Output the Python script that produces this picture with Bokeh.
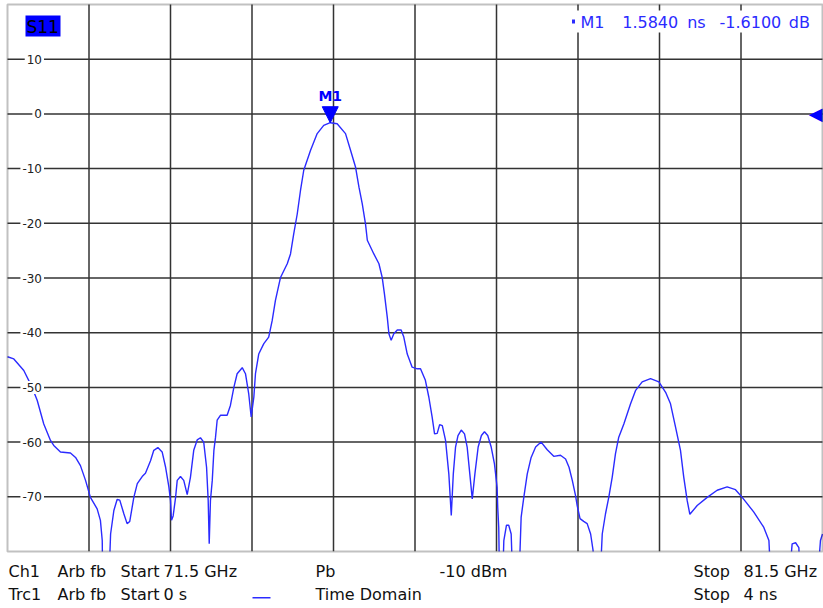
from bokeh.plotting import figure
from bokeh.models import Range1d, Label, BoxAnnotation, Arrow, NormalHead
from bokeh.core.properties import value
from bokeh.embed import file_html
from bokeh.resources import INLINE

# ---- data ----
time_ns = [0.000, 0.031, 0.080, 0.121, 0.146, 0.178, 0.211, 0.227, 0.260, 0.309,
           0.334, 0.358, 0.383, 0.407, 0.440, 0.456, 0.465, 0.468, 0.495, 0.506,
           0.522, 0.538, 0.551, 0.571, 0.587, 0.600, 0.620, 0.637, 0.661, 0.677,
           0.702, 0.718, 0.738, 0.759, 0.776, 0.792, 0.800, 0.805, 0.813, 0.825,
           0.833, 0.849, 0.865, 0.882, 0.898, 0.914, 0.931, 0.947, 0.963, 0.977,
           0.985, 0.990, 0.996, 1.005, 1.013, 1.021, 1.029, 1.045, 1.078, 1.094,
           1.111, 1.127, 1.152, 1.168, 1.184, 1.196, 1.209, 1.217, 1.233, 1.258,
           1.282, 1.299, 1.315, 1.340, 1.373, 1.389, 1.405, 1.422, 1.438, 1.454,
           1.487, 1.520, 1.552, 1.584, 1.618, 1.659, 1.684, 1.708, 1.725, 1.741,
           1.757, 1.766, 1.798, 1.823, 1.839, 1.850, 1.864, 1.872, 1.883, 1.896,
           1.913, 1.932, 1.945, 1.962, 1.986, 2.011, 2.027, 2.051, 2.068, 2.084,
           2.096, 2.109, 2.121, 2.134, 2.150, 2.166, 2.178, 2.188, 2.199, 2.211,
           2.227, 2.243, 2.256, 2.269, 2.281, 2.294, 2.310, 2.326, 2.341, 2.357,
           2.374, 2.390, 2.403, 2.406, 2.411, 2.416, 2.428, 2.436, 2.449, 2.460,
           2.472, 2.482, 2.508, 2.521, 2.534, 2.551, 2.570, 2.592, 2.619, 2.649,
           2.681, 2.714, 2.739, 2.756, 2.772, 2.788, 2.796, 2.810, 2.828, 2.845,
           2.862, 2.874, 2.880, 2.905, 2.919, 2.935, 2.951, 2.968, 2.984, 3.000,
           3.025, 3.058, 3.082, 3.115, 3.156, 3.197, 3.230, 3.254, 3.279, 3.303,
           3.319, 3.336, 3.349, 3.385, 3.434, 3.483, 3.532, 3.573, 3.606, 3.663,
           3.712, 3.737, 3.750, 3.830, 3.851, 3.868, 3.884, 3.892, 3.970, 3.990,
           4.000]
s11_db = [-44.4, -44.8, -46.9, -50.0, -52.4, -56.7, -59.7, -60.6, -61.8, -62.0,
          -62.8, -64.3, -67.0, -70.1, -72.2, -74.3, -78.0, -88.0, -88.0, -76.8,
          -72.5, -70.5, -70.6, -73.1, -74.9, -74.5, -70.1, -67.6, -66.3, -65.7,
          -63.4, -61.5, -61.0, -61.8, -64.6, -68.2, -70.7, -74.3, -73.5, -70.1,
          -67.0, -66.3, -67.0, -69.6, -66.4, -61.5, -59.6, -59.2, -60.0, -64.6,
          -70.7, -78.6, -70.7, -67.0, -61.5, -59.1, -56.0, -55.1, -55.1, -53.3,
          -50.0, -47.5, -46.4, -47.5, -51.2, -55.4, -51.8, -47.5, -43.9, -42.0,
          -40.8, -37.8, -34.1, -29.9, -27.4, -25.6, -21.9, -18.3, -14.0, -10.3,
          -6.7, -3.6, -2.1, -1.61, -1.8, -3.6, -6.7, -9.7, -13.4, -16.4,
          -20.1, -23.1, -25.6, -27.4, -29.9, -32.9, -37.2, -40.2, -41.4, -40.2,
          -39.5, -39.5, -40.8, -43.9, -46.3, -46.6, -46.6, -48.7, -51.8, -55.4,
          -58.5, -58.4, -56.8, -57.0, -59.7, -65.8, -73.4, -65.8, -60.9, -58.8,
          -57.8, -58.5, -60.9, -65.8, -70.4, -65.8, -60.9, -58.8, -58.1, -58.8,
          -60.9, -64.0, -68.3, -71.9, -75.6, -88.0, -88.0, -78.0, -75.2, -75.2,
          -76.8, -88.0, -88.0, -73.7, -70.1, -65.8, -62.8, -60.9, -60.0, -61.4,
          -62.6, -62.4, -63.1, -64.6, -67.0, -69.8, -71.6, -74.0, -74.5, -74.9,
          -76.8, -79.8, -88.0, -88.0, -76.8, -73.1, -70.1, -66.4, -62.1, -59.1,
          -56.7, -53.0, -50.6, -49.0, -48.4, -49.0, -50.9, -53.0, -57.3, -61.5,
          -66.4, -70.7, -73.2, -71.6, -70.1, -68.8, -68.2, -68.7, -70.1, -72.8,
          -75.6, -78.0, -88.0, -88.0, -78.6, -78.4, -79.3, -88.0, -88.0, -78.0,
          -76.8]

x_ticks = [0.4, 0.8, 1.2, 1.6, 2.0, 2.4, 2.8, 3.2, 3.6]
y_ticks = [10, 0, -10, -20, -30, -40, -50, -60, -70]
y_tick_labels = ["10", "0", "-10", "-20", "-30", "-40", "-50", "-60", "-70"]
x_min, x_max = 0.0, 4.0
y_min, y_max = -80.0, 20.0

marker_t = [1.584]
marker_db = [-1.61]
marker_name = ["M1"]
ref_level_db = [0.0]
trace_name = "S11"

footer_row1 = ["Ch1", "Arb fb", "Start", "71.5 GHz", "Pb", "-10 dBm", "Stop", "81.5 GHz"]
footer_row2 = ["Trc1", "Arb fb", "Start", "0 s", "Time Domain", "Stop", "4 ns"]

# ---- layout / style (pixels) ----
W, H = 823, 608
FRAME_L, FRAME_R, FRAME_T, FRAME_B = 7, 822, 4, 551
footer_row1_x = [8, 57, 120, 163, 315, 439, 693, 743]
footer_row2_x = [8, 57, 120, 163, 315, 693, 743]
TRACE = "#2b2bff"
GRID = "#333333"
FONT = "DejaVu Sans"

px_per_x = (FRAME_R - FRAME_L) / (x_max - x_min)
px_per_y = (FRAME_B - FRAME_T) / (y_max - y_min)
xr = Range1d(x_min - FRAME_L / px_per_x, x_max + (W - FRAME_R) / px_per_x)
yr = Range1d(y_min - (H - FRAME_B) / px_per_y, y_max + FRAME_T / px_per_y)


def sy(page_y):
    """page y (from top) -> screen y (from bottom)"""
    return H - page_y


p = figure(width=W, height=H, x_range=xr, y_range=yr,
           output_backend="svg", toolbar_location=None,
           x_axis_location=None, y_axis_location=None,
           min_border=0, min_border_left=0, min_border_right=0,
           min_border_top=0, min_border_bottom=0,
           outline_line_color=None,
           background_fill_color="white", border_fill_color="white")
p.xgrid.visible = False
p.ygrid.visible = False

# grid
p.segment(x0=x_ticks, y0=[y_min] * len(x_ticks), x1=x_ticks, y1=[y_max] * len(x_ticks),
          line_color=GRID, line_width=1.5)
p.segment(x0=[x_min] * len(y_ticks), y0=y_ticks, x1=[x_max] * len(y_ticks), y1=y_ticks,
          line_color=GRID, line_width=1.5)

# trace
p.line(time_ns, s11_db, line_color=TRACE, line_width=1.4)

# marker name above the marker triangle
p.text(x=marker_t, y=marker_db, text=marker_name, text_align="center",
       text_baseline="middle", y_offset=-27,
       text_font=value(FONT), text_font_style="bold", text_font_size="14px",
       text_color="#0000ff")

# reference level arrow on right edge
p.text(x=[x_max], y=ref_level_db, text=["◀"], text_align="right", text_baseline="middle",
       text_font=value(FONT), text_font_size="18px", text_color="#0000ff")

# cover anything below the diagram (trace is clipped at the bottom edge)
p.add_layout(BoxAnnotation(top=y_min, fill_color="white", fill_alpha=1, line_color=None))
# diagram frame
p.add_layout(BoxAnnotation(left=x_min, right=x_max, bottom=y_min, top=y_max,
                           fill_color=None, line_color=GRID, line_width=2))

# marker triangle
p.add_layout(Arrow(x_start=marker_t[0], y_start=y_max, x_end=marker_t[0], y_end=marker_db[0],
                   line_alpha=0,
                   end=NormalHead(size=16, fill_color="#0000ff", line_color="#0000ff")))

# y tick labels inside the plot, white boxes over the grid
for v, lab in zip(y_ticks, y_tick_labels):
    p.add_layout(Label(x=43.5, y=v, x_units="screen", y_units="data", text=lab,
                       text_align="right", text_baseline="middle",
                       text_font=FONT, text_font_size="12px", text_color="#222222",
                       background_fill_color="white", padding=2))


def sbox(left, right, top, bottom, color):
    return BoxAnnotation(left=left, right=right, bottom=sy(bottom), top=sy(top),
                         left_units="screen", right_units="screen",
                         bottom_units="screen", top_units="screen",
                         fill_color=color, fill_alpha=1, line_color=None)


# trace name box
p.add_layout(sbox(25, 60, 15, 36, "#0000ff"))
p.add_layout(Label(x=26, y=sy(26.5), x_units="screen", y_units="screen", text=trace_name,
                   text_baseline="middle",
                   text_font=FONT, text_font_size="17px", text_color="#000000"))

# marker readout (top right)
p.add_layout(sbox(566, 818, 10, 32, "white"))
p.add_layout(sbox(571.5, 574.5, 19, 23, TRACE))
readout = [marker_name[0], f"{marker_t[0]:.4f}", "ns", f"{marker_db[0]:.4f}", "dB"]
readout_x = [580, 621.7, 686.7, 719, 788.3]
for t, xx in zip(readout, readout_x):
    p.add_layout(Label(x=xx, y=sy(21.5), x_units="screen", y_units="screen", text=t,
                       text_baseline="middle",
                       text_font=FONT, text_font_size="16px", text_color=TRACE))

# footer (channel / trace info)
for t, xx in zip(footer_row1, footer_row1_x):
    p.add_layout(Label(x=xx, y=sy(570.5), x_units="screen", y_units="screen", text=t,
                       text_baseline="middle",
                       text_font=FONT, text_font_size="16px", text_color="#111111"))
for t, xx in zip(footer_row2, footer_row2_x):
    p.add_layout(Label(x=xx, y=sy(594), x_units="screen", y_units="screen", text=t,
                       text_baseline="middle",
                       text_font=FONT, text_font_size="16px", text_color="#111111"))
p.add_layout(sbox(252, 270, 596.5, 598, TRACE))

open("out.html", "w").write(file_html(p, INLINE))
